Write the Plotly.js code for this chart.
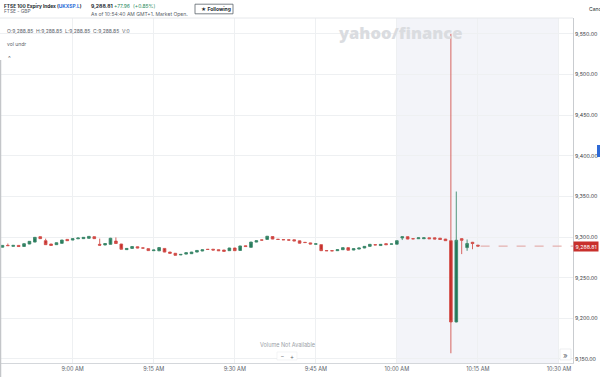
<!DOCTYPE html>
<html>
<head>
<meta charset="utf-8">
<script src="https://cdn.plot.ly/plotly-3.0.1.min.js"></script>
<style>html,body{margin:0;padding:0;background:#fff;}#chart{width:600px;height:377px;}</style>
</head>
<body>
<div id="chart"></div>
<script>
// ---- data (1-minute candles, FTSE 100 Expiry Index) ----
const day = '2025-06-20 ';
const times = ['08:47','08:48','08:49','08:50','08:51','08:52','08:53','08:54','08:55','08:56',
 '08:57','08:58','08:59','09:00','09:01','09:02','09:03','09:04','09:05','09:06',
 '09:07','09:08','09:09','09:10','09:11','09:12','09:13','09:14','09:15','09:16',
 '09:17','09:18','09:19','09:20','09:21','09:22','09:23','09:24','09:25','09:26',
 '09:27','09:28','09:29','09:30','09:31','09:32','09:33','09:34','09:35','09:36',
 '09:37','09:38','09:39','09:40','09:41','09:42','09:43','09:44','09:45','09:46',
 '09:47','09:48','09:49','09:50','09:51','09:52','09:53','09:54','09:55','09:56',
 '09:57','09:58','09:59','10:00','10:01','10:02','10:03','10:04','10:05','10:06',
 '10:07','10:08','10:09','10:10','10:11','10:12','10:13','10:14','10:15'];
const openP = [9287.5, 9289.7, 9288.5, 9289.7, 9288.4, 9291.4, 9293.8, 9300.4, 9295.5, 9291.4,
 9290.6, 9292.2, 9297.1, 9296.3, 9297.8, 9298.0, 9298.4, 9300.4, 9291.0, 9290.2,
 9291.0, 9295.0, 9291.4, 9284.5, 9286.0, 9288.0, 9286.6, 9285.7, 9283.2, 9283.0,
 9286.0, 9281.5, 9280.0, 9278.0, 9279.0, 9279.5, 9281.5, 9282.8, 9284.9, 9285.0,
 9284.4, 9284.0, 9283.2, 9286.5, 9283.5, 9289.2, 9287.3, 9293.8, 9296.4, 9297.1,
 9300.6, 9297.3, 9296.9, 9296.5, 9296.6, 9295.3, 9293.5, 9292.8, 9291.2, 9290.6,
 9283.4, 9283.3, 9283.2, 9284.4, 9286.9, 9284.0, 9285.2, 9286.5, 9288.5, 9290.6,
 9289.5, 9291.8, 9291.2, 9291.2, 9298.8, 9300.4, 9298.0, 9297.9, 9297.9, 9299.0,
 9299.0, 9298.6, 9297.5, 9295.5, 9195.5, 9298.0, 9287.0, 9293.5, 9290.0];
const highP = [9290.0, 9292.0, 9290.0, 9289.9, 9292.0, 9295.0, 9299.8, 9300.6, 9298.0, 9291.6,
 9293.2, 9296.5, 9297.3, 9298.2, 9299.0, 9299.8, 9301.0, 9300.6, 9298.0, 9292.2,
 9299.0, 9299.5, 9291.6, 9286.2, 9288.5, 9288.2, 9286.8, 9285.9, 9284.2, 9287.2,
 9286.2, 9281.7, 9280.2, 9278.8, 9280.9, 9281.7, 9283.7, 9284.5, 9285.1, 9285.2,
 9284.6, 9284.2, 9286.7, 9286.7, 9289.2, 9289.4, 9294.0, 9295.7, 9296.6, 9301.2,
 9300.8, 9297.5, 9297.1, 9296.7, 9296.8, 9295.5, 9293.7, 9293.0, 9291.8, 9290.8,
 9283.6, 9283.5, 9284.6, 9287.1, 9287.1, 9285.9, 9286.7, 9288.7, 9291.2, 9290.8,
 9291.2, 9292.0, 9291.7, 9295.7, 9300.6, 9300.6, 9298.2, 9299.2, 9299.2, 9299.2,
 9299.2, 9298.8, 9297.7, 9550.0, 9356.0, 9298.5, 9297.0, 9294.0, 9290.3];
const lowP = [9287.3, 9289.2, 9288.3, 9288.1, 9288.2, 9291.2, 9293.6, 9297.8, 9290.4, 9289.5,
 9290.4, 9292.0, 9295.3, 9296.1, 9297.6, 9297.8, 9298.2, 9297.8, 9289.5, 9290.0,
 9290.8, 9291.8, 9284.8, 9284.3, 9285.8, 9286.3, 9286.2, 9283.1, 9283.0, 9282.8,
 9281.3, 9279.8, 9277.3, 9277.8, 9278.8, 9279.3, 9281.3, 9282.6, 9284.5, 9283.8,
 9283.0, 9282.2, 9283.0, 9283.0, 9283.3, 9288.1, 9287.1, 9293.6, 9296.0, 9296.9,
 9297.3, 9296.8, 9296.4, 9296.0, 9295.0, 9292.2, 9293.0, 9291.2, 9291.0, 9283.0,
 9282.9, 9282.8, 9283.0, 9284.2, 9283.6, 9283.8, 9285.0, 9286.3, 9288.3, 9290.1,
 9289.3, 9290.4, 9291.0, 9291.0, 9296.3, 9297.3, 9297.6, 9297.7, 9297.7, 9297.7,
 9297.3, 9296.8, 9295.3, 9157.0, 9195.0, 9279.0, 9283.0, 9285.0, 9288.5];
const closeP = [9289.7, 9289.4, 9289.7, 9288.3, 9291.8, 9294.7, 9299.6, 9298.0, 9290.6, 9289.7,
 9293.0, 9296.3, 9295.5, 9298.0, 9298.8, 9299.6, 9300.8, 9298.0, 9290.0, 9292.0,
 9298.5, 9292.0, 9285.0, 9286.0, 9288.3, 9286.5, 9286.4, 9283.3, 9284.0, 9287.0,
 9281.5, 9280.0, 9277.5, 9278.6, 9280.7, 9281.5, 9283.5, 9284.3, 9284.7, 9284.0,
 9283.2, 9282.4, 9286.5, 9283.2, 9289.0, 9288.3, 9293.8, 9295.5, 9296.2, 9301.0,
 9297.5, 9297.0, 9296.6, 9296.2, 9295.2, 9292.4, 9293.2, 9291.4, 9291.6, 9283.2,
 9283.1, 9283.0, 9284.4, 9286.9, 9283.8, 9285.7, 9286.5, 9288.5, 9291.0, 9290.3,
 9291.0, 9290.6, 9291.5, 9295.5, 9300.4, 9297.5, 9297.8, 9299.0, 9299.0, 9297.9,
 9297.5, 9297.0, 9295.5, 9195.5, 9296.0, 9296.0, 9292.0, 9292.0, 9288.81];
const lastPrice = 9288.81;
const lastLabel = '9,288.81';
const xTickVals = ['09:00','09:15','09:30','09:45','10:00','10:15','10:30'];
const xTickText = ['9:00 AM','9:15 AM','9:30 AM','9:45 AM','10:00 AM','10:15 AM','10:30 AM'];
const xRange = ['08:46:33','10:32:36'];
const yRange = [9145, 9569.5];
const shadeRange = ['10:00','10:30'];

// ---- layout helpers ----
const W = 600, H = 377, ML = 0, MR = 27, MT = 18, MB = 14;
const PW = W - ML - MR, PH = H - MT - MB;
const px = x => (x - ML) / PW;
const py = y => (H - MB - y) / PH;
const FONT = 'Inter, Roboto, Arial, sans-serif';
function ann(text, x, y, size, color, extra) {
  return Object.assign({text: text, xref: 'paper', yref: 'paper', x: px(x), y: py(y),
    xanchor: 'left', yanchor: 'middle', showarrow: false, borderpad: 0,
    font: {family: FONT, size: size, color: color}}, extra || {});
}

const trace = {
  type: 'candlestick',
  x: times.map(t => day + t),
  open: openP, high: highP, low: lowP, close: closeP,
  increasing: {line: {color: '#3f8a6d', width: 0.9}, fillcolor: '#237859'},
  decreasing: {line: {color: '#d4544f', width: 0.9}, fillcolor: '#c42d29'},
  whiskerwidth: 0,
  hoverinfo: 'skip',
  showlegend: false
};

const layout = {
  width: W, height: H,
  margin: {l: ML, r: MR, t: MT, b: MB, pad: 0},
  paper_bgcolor: '#ffffff', plot_bgcolor: '#ffffff',
  showlegend: false,
  font: {family: FONT},
  xaxis: {
    type: 'date', range: xRange.map(t => day + t),
    rangeslider: {visible: false},
    tickmode: 'array', tickvals: xTickVals.map(t => day + t), ticktext: xTickText,
    tickfont: {size: 5.5, color: '#5b636a', family: FONT},
    showgrid: true, gridcolor: '#eef0f2', gridwidth: 1,
    showline: true, linecolor: '#d4d7db', linewidth: 1,
    ticks: '', zeroline: false, fixedrange: true
  },
  yaxis: {
    side: 'right', range: yRange, dtick: 50, tick0: 9150,
    tickformat: ',.2f',
    tickfont: {size: 5.3, color: '#3c4146', family: FONT},
    showgrid: true, gridcolor: '#eef0f2', gridwidth: 1,
    showline: true, linecolor: '#c9ccd0', linewidth: 1,
    ticks: '', ticklen: 0,
    zeroline: false, fixedrange: true
  },
  shapes: [
    {type: 'rect', xref: 'x', yref: 'paper', x0: day + shadeRange[0], x1: day + shadeRange[1], y0: 0, y1: 1,
      fillcolor: '#f3f4f9', line: {width: 0}, layer: 'below'},
    {type: 'line', xref: 'paper', yref: 'paper', x0: 0, x1: 1, y0: 1, y1: 1,
      line: {color: '#e6e8eb', width: 1}},
    {type: 'line', xref: 'x', yref: 'y', x0: day + '10:15:30', x1: day + xRange[1], y0: lastPrice, y1: lastPrice,
      line: {color: '#e0a09d', width: 1, dash: 'dash'}},
    {type: 'rect', xref: 'paper', yref: 'paper', x0: px(597), x1: px(600.5), y0: py(157), y1: py(145),
      fillcolor: '#2e6ad6', line: {width: 0}},
    {type: 'line', xref: 'paper', yref: 'paper', x0: px(0.5), x1: px(0.5), y0: py(377), y1: py(60),
      line: {color: '#c4c6c9', width: 1.5}},
    {type: 'rect', xref: 'paper', yref: 'paper', x0: px(195), x1: px(233), y0: py(13.8), y1: py(4.2),
      line: {color: '#5b636a', width: 0.8}, fillcolor: '#ffffff'},
    {type: 'rect', xref: 'paper', yref: 'paper', x0: px(560), x1: px(571), y0: py(360), y1: py(349),
      line: {color: '#e2e4e7', width: 0.6}, fillcolor: '#ffffff'},
    {type: 'rect', xref: 'paper', yref: 'paper', x0: px(277), x1: px(297), y0: py(360), y1: py(352),
      line: {color: '#eceef0', width: 0.6}, fillcolor: '#ffffff'}
  ],
  annotations: [
    ann('yahoo/finance', 337, 33, 16, '#dcdee2', {font: {family: 'Open Sans, sans-serif', size: 16.5, color: '#dadce0', weight: 800}}),
    ann('<b>FTSE 100 Expiry Index (<span style="color:#1a66d6">UKXSP.L</span>)</b>', 2.5, 5.5, 4.8, '#232a31'),
    ann('FTSE - GBP', 2.5, 11.5, 4.8, '#5b636a'),
    ann('<b>9,288.81</b>', 89.5, 5.5, 5.1, '#232a31'),
    ann('+77.96', 112.5, 5.5, 5.0, '#1f8a5b'),
    ann('(+0.85%)', 132, 5.5, 5.0, '#1f8a5b'),
    ann('As of 10:54:40 AM GMT+1. Market Open.', 89.5, 13.5, 5.0, '#5b636a'),
    ann('<b>★ Following</b>', 200, 9, 5.0, '#232a31'),
    ann('Canc', 588, 9, 5, '#232a31'),
    ann('O:9,288.85  H:9,288.85  L:9,288.85  C:9,288.85  V:0', 5.5, 31, 5.0, '#5b636a'),
    ann('vol undr', 5.5, 44, 5, '#5b636a'),
    ann('^', 6.5, 57.5, 6, '#5b636a'),
    ann('Volume Not Available', 287, 344.5, 5.5, '#9aa0a6', {xanchor: 'center'}),
    ann('–', 282, 356, 5.5, '#5b636a', {xanchor: 'center'}),
    ann('+', 292, 356, 6, '#5b636a', {xanchor: 'center'}),
    ann('»', 565.5, 354.5, 8, '#5b636a', {xanchor: 'center'}),
    {text: lastLabel, xref: 'paper', yref: 'y', x: 1, y: lastPrice, xanchor: 'left', yanchor: 'middle',
      showarrow: false, bgcolor: '#c8302c', borderpad: 1.5, font: {family: FONT, size: 5.3, color: '#ffffff'}}
  ]
};

Plotly.newPlot('chart', [trace], layout, {staticPlot: true, displayModeBar: false});
</script>
</body>
</html>
